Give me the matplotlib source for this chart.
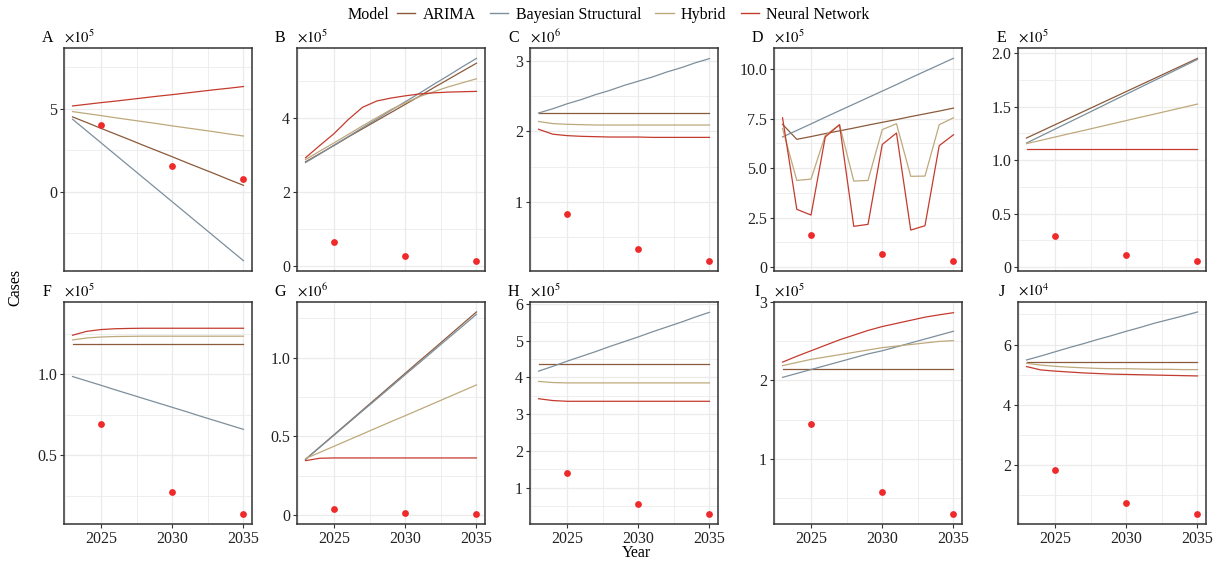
import matplotlib
matplotlib.use('Agg')
import matplotlib.pyplot as plt
from matplotlib.ticker import MultipleLocator, FuncFormatter
from matplotlib.lines import Line2D

plt.rcParams['font.family'] = ['Liberation Serif', 'DejaVu Serif']
plt.rcParams['mathtext.fontset'] = 'stix'

# ---------------- data ----------------
YEARS = list(range(2023, 2036))
OBS_YEARS = [2025, 2030, 2035]
MODELS = ['ARIMA', 'Bayesian Structural', 'Hybrid', 'Neural Network']
PANEL_LABELS = ['A', 'B', 'C', 'D', 'E', 'F', 'G', 'H', 'I', 'J']
EXPONENTS = [5, 5, 6, 5, 5, 5, 6, 5, 5, 4]
TICK_STEPS = [5, 2, 1, 2.5, 0.5, 0.5, 0.5, 1, 1, 2]

# values are in units of 10^exponent
A_arima = [4.52, 4.18, 3.83, 3.49, 3.15, 2.80, 2.46, 2.12, 1.77, 1.43, 1.09, 0.74, 0.40]
A_bayes = [4.38, 3.67, 2.96, 2.25, 1.54, 0.83, 0.12, -0.59, -1.30, -2.01, -2.72, -3.43, -4.14]
A_hybrid = [4.84, 4.72, 4.60, 4.47, 4.35, 4.23, 4.11, 3.98, 3.86, 3.74, 3.62, 3.49, 3.37]
A_nn = [5.18, 5.28, 5.38, 5.47, 5.57, 5.67, 5.77, 5.86, 5.96, 6.06, 6.16, 6.25, 6.35]
A_obs = [4.02, 1.59, 0.78]

B_arima = [2.81, 3.03, 3.25, 3.48, 3.70, 3.92, 4.14, 4.36, 4.58, 4.81, 5.03, 5.25, 5.47]
B_bayes = [2.79, 3.02, 3.26, 3.49, 3.73, 3.96, 4.20, 4.43, 4.66, 4.90, 5.13, 5.37, 5.60]
B_hybrid = [2.87, 3.10, 3.32, 3.55, 3.78, 4.00, 4.22, 4.40, 4.57, 4.70, 4.83, 4.94, 5.05]
B_nn = [2.92, 3.25, 3.57, 3.95, 4.28, 4.45, 4.53, 4.59, 4.64, 4.67, 4.69, 4.70, 4.71]
B_obs = [0.65, 0.26, 0.13]

C_arima = [2.26, 2.26, 2.26, 2.26, 2.26, 2.26, 2.26, 2.26, 2.26, 2.26, 2.26, 2.26, 2.26]
C_bayes = [2.26, 2.32, 2.39, 2.45, 2.52, 2.58, 2.65, 2.71, 2.77, 2.84, 2.90, 2.97, 3.03]
C_hybrid = [2.14, 2.11, 2.10, 2.095, 2.09, 2.09, 2.09, 2.09, 2.09, 2.09, 2.09, 2.09, 2.09]
C_nn = [2.03, 1.96, 1.94, 1.93, 1.925, 1.92, 1.92, 1.92, 1.915, 1.915, 1.915, 1.915, 1.915]
C_obs = [0.835, 0.335, 0.17]

D_arima = [7.22, 6.46, 6.60, 6.75, 6.89, 7.03, 7.18, 7.32, 7.46, 7.61, 7.75, 7.89, 8.04]
D_bayes = [6.58, 6.91, 7.24, 7.58, 7.91, 8.24, 8.57, 8.90, 9.23, 9.57, 9.90, 10.23, 10.56]
D_hybrid = [7.00, 4.38, 4.45, 6.66, 7.20, 4.35, 4.38, 6.95, 7.25, 4.59, 4.60, 7.20, 7.55]
D_nn = [7.55, 2.92, 2.63, 6.58, 7.20, 2.06, 2.16, 6.20, 6.78, 1.87, 2.09, 6.14, 6.69]
D_obs = [1.64, 0.64, 0.32]

E_arima = [1.206, 1.268, 1.330, 1.392, 1.454, 1.516, 1.578, 1.640, 1.702, 1.764, 1.826, 1.888, 1.950]
E_bayes = [1.159, 1.224, 1.289, 1.354, 1.419, 1.484, 1.550, 1.615, 1.680, 1.745, 1.810, 1.875, 1.940]
E_hybrid = [1.153, 1.184, 1.215, 1.246, 1.276, 1.307, 1.338, 1.369, 1.400, 1.430, 1.461, 1.492, 1.523]
E_nn = [1.103, 1.103, 1.103, 1.103, 1.103, 1.103, 1.103, 1.103, 1.103, 1.103, 1.103, 1.103, 1.103]
E_obs = [0.29, 0.115, 0.059]

F_arima = [1.185, 1.185, 1.185, 1.185, 1.185, 1.185, 1.185, 1.185, 1.185, 1.185, 1.185, 1.185, 1.185]
F_bayes = [0.986, 0.959, 0.932, 0.904, 0.877, 0.850, 0.823, 0.796, 0.769, 0.741, 0.714, 0.687, 0.660]
F_hybrid = [1.212, 1.224, 1.230, 1.233, 1.234, 1.235, 1.235, 1.235, 1.235, 1.235, 1.235, 1.235, 1.235]
F_nn = [1.241, 1.265, 1.276, 1.281, 1.283, 1.284, 1.284, 1.284, 1.284, 1.284, 1.284, 1.284, 1.284]
F_obs = [0.691, 0.276, 0.136]

G_arima = [0.355, 0.433, 0.511, 0.589, 0.667, 0.745, 0.823, 0.901, 0.979, 1.056, 1.134, 1.212, 1.290]
G_bayes = [0.355, 0.432, 0.508, 0.585, 0.662, 0.738, 0.815, 0.892, 0.968, 1.045, 1.122, 1.198, 1.275]
G_hybrid = [0.360, 0.399, 0.438, 0.477, 0.516, 0.555, 0.594, 0.632, 0.671, 0.710, 0.749, 0.788, 0.827]
G_nn = [0.347, 0.362, 0.364, 0.364, 0.364, 0.364, 0.364, 0.364, 0.364, 0.364, 0.364, 0.364, 0.364]
G_obs = [0.042, 0.017, 0.006]

H_arima = [4.37, 4.37, 4.37, 4.37, 4.37, 4.37, 4.37, 4.37, 4.37, 4.37, 4.37, 4.37, 4.37]
H_bayes = [4.17, 4.30, 4.44, 4.57, 4.70, 4.84, 4.97, 5.10, 5.24, 5.37, 5.50, 5.64, 5.77]
H_hybrid = [3.89, 3.86, 3.85, 3.85, 3.85, 3.85, 3.85, 3.85, 3.85, 3.85, 3.85, 3.85, 3.85]
H_nn = [3.42, 3.37, 3.35, 3.35, 3.35, 3.35, 3.35, 3.35, 3.35, 3.35, 3.35, 3.35, 3.35]
H_obs = [1.39, 0.556, 0.275]

I_arima = [2.145, 2.145, 2.145, 2.145, 2.145, 2.145, 2.145, 2.145, 2.145, 2.145, 2.145, 2.145, 2.145]
I_bayes = [2.04, 2.09, 2.14, 2.19, 2.24, 2.29, 2.34, 2.38, 2.43, 2.48, 2.53, 2.58, 2.63]
I_hybrid = [2.19, 2.23, 2.27, 2.30, 2.33, 2.36, 2.39, 2.42, 2.44, 2.46, 2.48, 2.50, 2.51]
I_nn = [2.235, 2.31, 2.38, 2.45, 2.52, 2.58, 2.64, 2.69, 2.73, 2.77, 2.81, 2.84, 2.867]
I_obs = [1.44, 0.576, 0.286]

J_arima = [5.43, 5.43, 5.43, 5.43, 5.43, 5.43, 5.43, 5.43, 5.43, 5.43, 5.43, 5.43, 5.43]
J_bayes = [5.49, 5.62, 5.76, 5.90, 6.03, 6.17, 6.30, 6.44, 6.57, 6.71, 6.83, 6.95, 7.08]
J_hybrid = [5.38, 5.32, 5.28, 5.25, 5.23, 5.21, 5.20, 5.20, 5.19, 5.18, 5.18, 5.17, 5.17]
J_nn = [5.27, 5.16, 5.12, 5.09, 5.06, 5.04, 5.02, 5.01, 5.00, 4.99, 4.98, 4.97, 4.96]
J_obs = [1.85, 0.74, 0.376]

SERIES = {
    'A': (A_arima, A_bayes, A_hybrid, A_nn, A_obs),
    'B': (B_arima, B_bayes, B_hybrid, B_nn, B_obs),
    'C': (C_arima, C_bayes, C_hybrid, C_nn, C_obs),
    'D': (D_arima, D_bayes, D_hybrid, D_nn, D_obs),
    'E': (E_arima, E_bayes, E_hybrid, E_nn, E_obs),
    'F': (F_arima, F_bayes, F_hybrid, F_nn, F_obs),
    'G': (G_arima, G_bayes, G_hybrid, G_nn, G_obs),
    'H': (H_arima, H_bayes, H_hybrid, H_nn, H_obs),
    'I': (I_arima, I_bayes, I_hybrid, I_nn, I_obs),
    'J': (J_arima, J_bayes, J_hybrid, J_nn, J_obs),
}

# ---------------- style ----------------
COLORS = ['#8B5A3C', '#7D8F9C', '#BEA97C', '#C43B2E']
DOT_COLOR = '#EE2A2A'
GRID = '#EBEBEB'
FRAME = '#333333'
FS = 11.5

W, H = 1217, 564
fig = plt.figure(figsize=(W / 100, H / 100), dpi=100)

col_left = [64, 297, 530, 774, 1018]
col_w = 188
row_top = [48, 302]
row_h = [223, 222]
# visible y-range of each panel (units of 10^exponent)
YLIMS = {'A': (-4.76, 8.67), 'B': (-0.135, 5.88), 'C': (0.024, 3.18), 'D': (-0.2, 11.08),
         'E': (-0.037, 2.047), 'F': (0.076, 1.446), 'G': (-0.055, 1.353), 'H': (0.013, 6.05),
         'I': (0.164, 3.004), 'J': (0.055, 7.41)}


def fmt_factory(step):
    dec = 0 if float(step).is_integer() else 1
    def f(v, pos):
        if abs(v) < 1e-9:
            return '0'
        return f'{v:.{dec}f}'
    return f


for i, lab in enumerate(PANEL_LABELS):
    r, c = divmod(i, 5)
    left = col_left[c] / W
    bottom = 1 - (row_top[r] + row_h[r]) / H
    ax = fig.add_axes([left, bottom, col_w / W, row_h[r] / H])
    arima, bayes, hybrid, nn, obs = SERIES[lab]
    for vals, col in zip((arima, bayes, hybrid, nn), COLORS):
        ax.plot(YEARS, vals, color=col, lw=0.9, zorder=3)
    ax.scatter(OBS_YEARS, obs, s=24, color=DOT_COLOR, zorder=4, linewidths=0)
    ax.margins(x=0.05)
    ax.set_ylim(*YLIMS[lab])
    step = TICK_STEPS[i]
    ax.yaxis.set_major_locator(MultipleLocator(step))
    ax.yaxis.set_minor_locator(MultipleLocator(step / 2))
    ax.yaxis.set_major_formatter(FuncFormatter(fmt_factory(step)))
    ax.xaxis.set_major_locator(MultipleLocator(5))
    ax.xaxis.set_minor_locator(MultipleLocator(2.5))
    ax.grid(which='major', color=GRID, lw=0.9, zorder=0)
    ax.grid(which='minor', color=GRID, lw=0.6, zorder=0)
    ax.set_axisbelow(True)
    for sp in ax.spines.values():
        sp.set_color(FRAME)
        sp.set_linewidth(1.1)
    ax.tick_params(which='minor', length=0)
    ax.tick_params(axis='y', which='major', length=3, width=0.8, color=FRAME,
                   labelsize=FS, labelcolor='#222222', pad=2)
    if r == 0:
        ax.tick_params(axis='x', which='major', length=0, labelbottom=False)
    else:
        ax.tick_params(axis='x', which='major', length=3, width=0.8, color=FRAME,
                       labelsize=FS, labelcolor='#222222', pad=2)
    ax.annotate(lab, xy=(0, 1), xycoords='axes fraction', xytext=(-12, 7.5),
                textcoords='offset points', ha='center', va='center', fontsize=FS)
    ax.annotate(r'$\times10^{%d}$' % EXPONENTS[i], xy=(0, 1), xycoords='axes fraction',
                xytext=(0, 8), textcoords='offset points', ha='left', va='center',
                fontsize=FS - 1)

# axis titles
fig.text(15 / W, 1 - 287 / H, 'Cases', rotation=90, ha='center', va='center', fontsize=FS)
fig.text(636 / W, 1 - 553 / H, 'Year', ha='center', va='center', fontsize=FS)

# legend
handles = [Line2D([], [], color=c, lw=1.0) for c in COLORS]
fig.text(348 / W, 1 - 15 / H, 'Model', ha='left', va='center', fontsize=FS)
fig.legend(handles, MODELS, loc='center left', bbox_to_anchor=(397 / W, 1 - 15 / H), ncol=4,
           frameon=False, fontsize=FS, handlelength=1.15, handletextpad=0.45,
           columnspacing=0.9, borderpad=0, borderaxespad=0)

fig.savefig('out.png', dpi=100)
